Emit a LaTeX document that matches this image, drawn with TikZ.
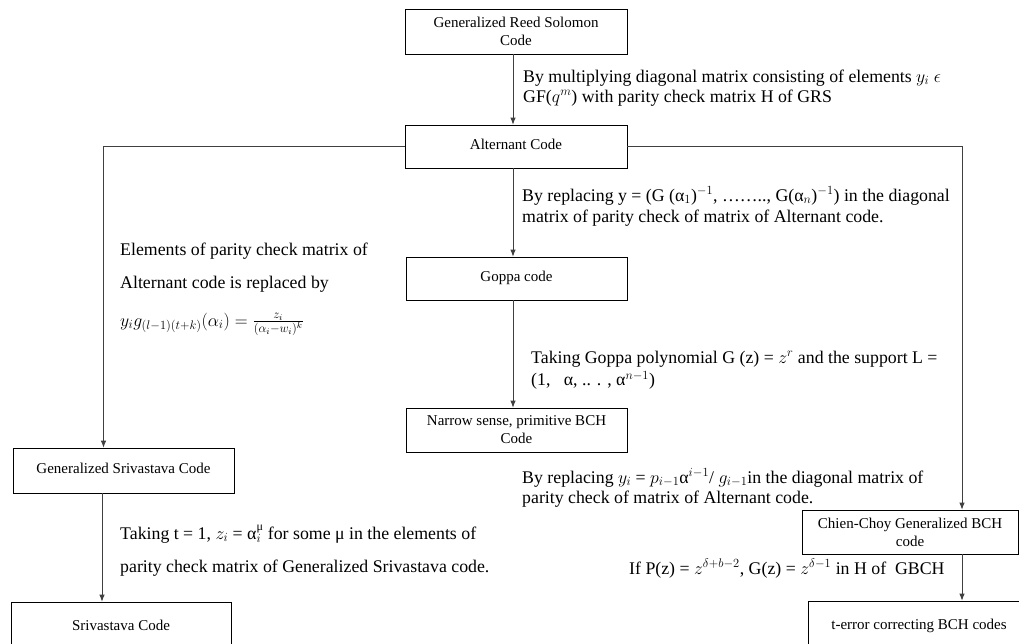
\RequirePackage{fix-cm}
\documentclass[tikz,border=0pt]{standalone}
\usepackage[no-math]{fontspec}
\setmainfont{Liberation Serif}
\usetikzlibrary{arrows.meta}
\newcommand\boxfont{\fontsize{15}{18}\selectfont}
\newcommand\lblfont{\fontsize{17.8}{20}\selectfont}
\newcommand\upmu{\hbox{\fontsize{12}{12}\selectfont μ}}
\begin{document}
\begin{tikzpicture}[x=1pt,y=-1pt,
  box/.style={draw=black, line width=0.8pt, minimum width=221pt, minimum height=44pt,
    inner sep=0pt, align=center, font=\boxfont},
  lbl/.style={anchor=base west, inner sep=0pt, font=\lblfont},
  conn/.style={draw=black!75, line width=0.8pt, -{Latex[length=7pt,width=5.5pt]}}]
\useasboundingbox[fill=white] (0,0) rectangle (1019,643);

% boxes
\node[box, minimum width=222pt, minimum height=45pt] (grs) at (516,31.5) {Generalized Reed Solomon\\Code};
\node[box, minimum width=222pt, minimum height=43pt] (alt) at (516,146.5) {\raisebox{5pt}{Alternant Code}};
\node[box, minimum height=43pt] (gop) at (516.5,278.5) {\raisebox{5pt}{Goppa code}};
\node[box] (nar) at (516.5,430) {Narrow sense, primitive BCH\\Code};
\node[box, minimum height=45pt] (gs) at (123.5,470.5) {\raisebox{4pt}{Generalized Srivastava Code}};
\node[box, minimum width=220pt, minimum height=58pt] (sri) at (121,631) {\raisebox{11pt}{Srivastava Code}};
\node[box, minimum width=216pt] (cc) at (910,532) {Chien-Choy Generalized BCH\\code};
\node[box, minimum width=222pt, minimum height=59pt] (te) at (919,630.5) {\raisebox{13pt}{t-error correcting BCH codes}};

% connectors
\draw[conn] ([xshift=-3pt]grs.south) -- ([xshift=-3pt]alt.north);
\draw[conn] (alt.west) -| ([xshift=-20pt]gs.north);
\draw[conn] (alt.east) -| ([xshift=52pt]cc.north);
\draw[conn] ([xshift=-3pt]alt.south) -- ([xshift=-3.5pt]gop.north);
\draw[conn] ([xshift=-3.5pt]gop.south) -- ([xshift=-3.5pt]nar.north);
\draw[conn] ([xshift=-21.5pt]gs.south) -- ([xshift=-19pt]sri.north);
\draw[conn] ([xshift=52pt]cc.south) -- ([xshift=43pt]te.north);

% labels
\node[lbl] (l1) at (523,82) {\begin{tabular}[t]{@{}l@{}}By multiplying diagonal matrix consisting of elements $y_i$ $\epsilon$\\GF($q^m$) with parity check matrix H of GRS\end{tabular}};
\node[lbl] (l2) at (522,201) {\begin{tabular}[t]{@{}l@{}}By replacing y = (G (α$_1$)$^{-1}$, ……..,\ G(α$_n$)$^{-1}$) in the diagonal\\[1pt]matrix of parity check of matrix of Alternant code.\end{tabular}};
\node[lbl] (l3) at (120,255) {\begin{tabular}[t]{@{}l@{}}Elements of parity check matrix of\\[13pt]Alternant code is replaced by\\[18pt]$y_i g_{(l-1)(t+k)}(\alpha_i) = \frac{z_i}{(\alpha_i - w_i)^k}$\end{tabular}};
\node[lbl] (l4) at (531,363) {\begin{tabular}[t]{@{}l@{}}Taking Goppa polynomial G (z) = $z^r$ and the support L =\\[2pt](1,\ \ \ α, .. . , α$^{n-1}$)\end{tabular}};
\node[lbl] (l5) at (522,483) {\begin{tabular}[t]{@{}l@{}}By replacing $y_i$ = $p_{i-1}$α$^{i-1}$/ $g_{i-1}$in the diagonal matrix of\\parity check of matrix of Alternant code.\end{tabular}};
\node[lbl] (l6) at (120,539) {\begin{tabular}[t]{@{}l@{}}Taking t = 1, $z_i$ = α$_i^{\upmu}$ for some μ in the elements of\\[13pt]parity check matrix of Generalized Srivastava code.\end{tabular}};
\node[lbl] (l7) at (629,574) {If P(z) = $z^{\delta+b-2}$, G(z) = $z^{\delta-1}$ in H of\ \ GBCH};
\end{tikzpicture}
\end{document}
